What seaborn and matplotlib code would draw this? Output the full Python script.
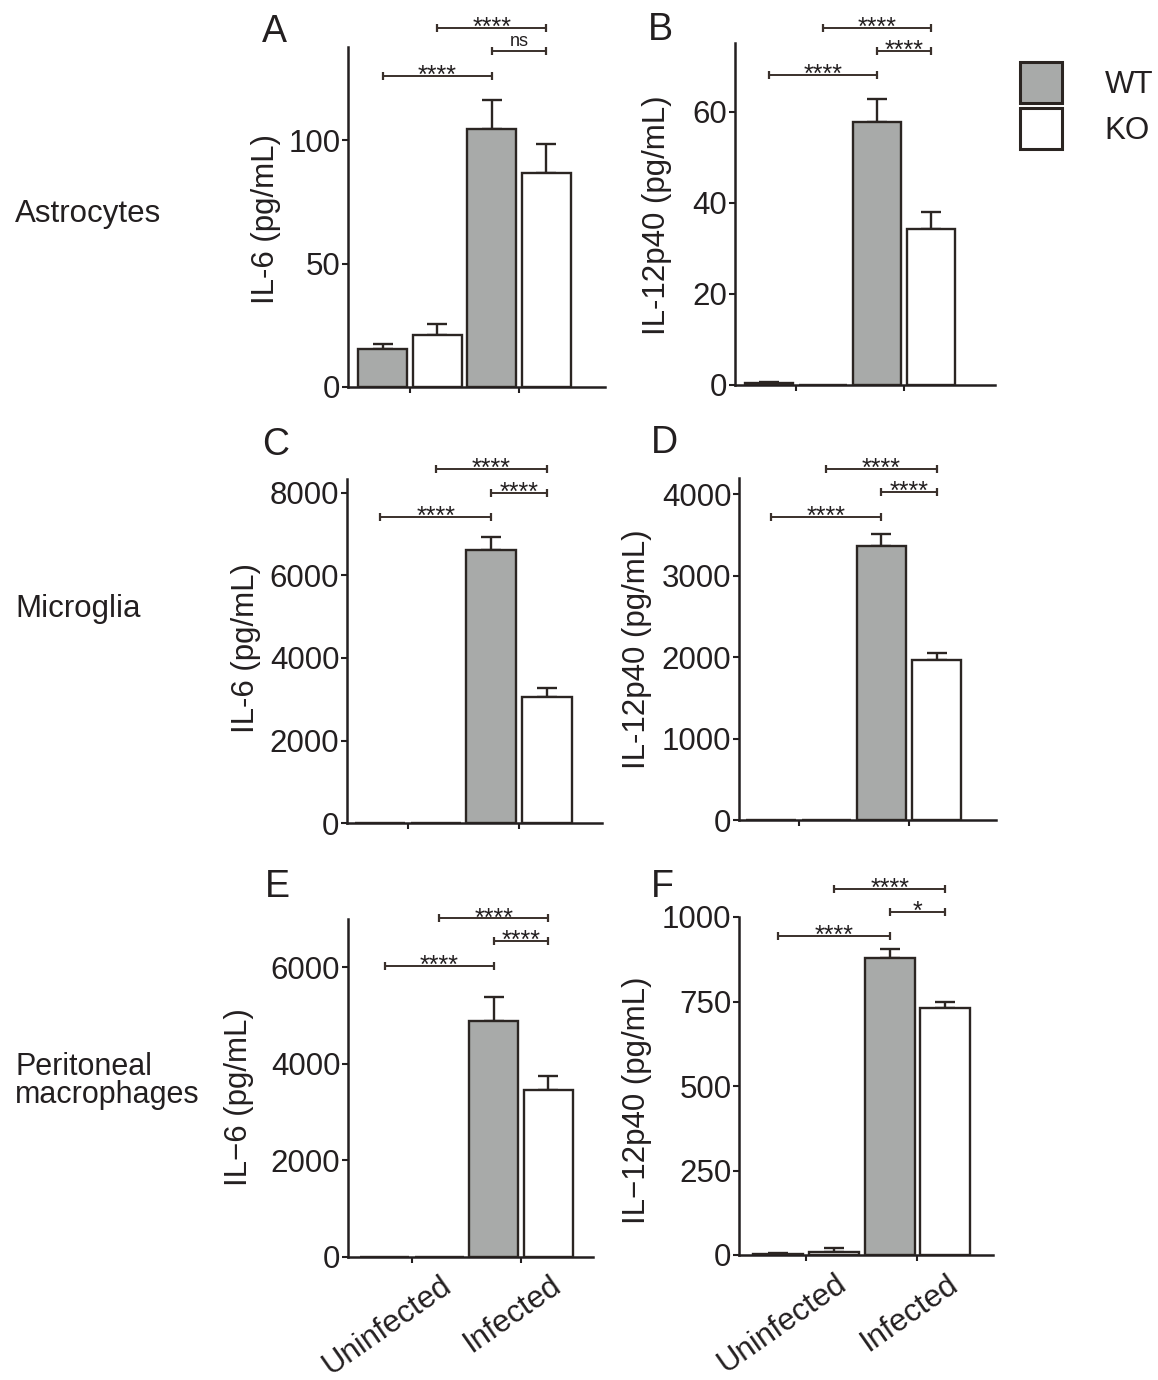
import numpy as np
import pandas as pd
import seaborn as sns
import matplotlib.pyplot as plt
from matplotlib.patches import Patch
from matplotlib.transforms import ScaledTranslation

# Data: [Uninfected, Infected] per genotype, mean and SEM
conditions = ['Uninfected', 'Infected']
genotypes = ['WT', 'KO']
row_labels = ['Astrocytes', 'Microglia', 'Peritoneal\nmacrophages']

a_wt = [15.2, 104.4]
a_ko = [21.0, 86.7]
a_wt_err = [2.0, 11.8]
a_ko_err = [4.4, 11.7]

b_wt = [0.4, 57.7]
b_ko = [0.0, 34.2]
b_wt_err = [0.2, 5.1]
b_ko_err = [0.0, 3.8]

c_wt = [0, 6610]
c_ko = [0, 3047]
c_wt_err = [0, 320]
c_ko_err = [0, 218]

d_wt = [0, 3370]
d_ko = [0, 1966]
d_wt_err = [0, 143]
d_ko_err = [0, 82]

e_wt = [0, 4881]
e_ko = [0, 3462]
e_wt_err = [0, 496]
e_ko_err = [0, 290]

f_wt = [3, 880]
f_ko = [9, 731]
f_wt_err = [2, 24]
f_ko_err = [11, 17]

# significance: WT uninf vs WT inf, KO uninf vs KO inf, WT inf vs KO inf
a_sig = ['****', '****', 'ns']
b_sig = ['****', '****', '****']
c_sig = ['****', '****', '****']
d_sig = ['****', '****', '****']
e_sig = ['****', '****', '****']
f_sig = ['****', '****', '*']

a_ticks = [0, 50, 100]
b_ticks = [0, 20, 40, 60]
c_ticks = [0, 2000, 4000, 6000, 8000]
d_ticks = [0, 1000, 2000, 3000, 4000]
e_ticks = [0, 2000, 4000, 6000]
f_ticks = [0, 250, 500, 750, 1000]

W, H = 1158, 1380
GRAY = '#a8aaa9'
EDGE = '#2b2522'
INK = '#231f20'

sns.set_style('ticks')
plt.rcParams['font.family'] = ['Liberation Sans', 'DejaVu Sans']
plt.rcParams.update({
    'text.color': INK, 'axes.labelcolor': INK, 'xtick.color': INK,
    'ytick.color': INK, 'axes.edgecolor': INK, 'axes.linewidth': 1.8,
})

fig = plt.figure(figsize=(W / 100, H / 100), dpi=100)

panels = [
    dict(letter='A', wt=a_wt, ko=a_ko, wte=a_wt_err, koe=a_ko_err, sig=a_sig, ticks=a_ticks,
         ylabel='IL-6 (pg/mL)', box=(348, 46.7, 605, 386.7), xlim=(-0.569, 1.789), ytop=138,
         sigy=[126.2, 145.5, 136.1], lab=(266, 219), let=(262, 42)),
    dict(letter='B', wt=b_wt, ko=b_ko, wte=b_wt_err, koe=b_ko_err, sig=b_sig, ticks=b_ticks,
         ylabel='IL-12p40 (pg/mL)', box=(735, 43.3, 995, 385), xlim=(-0.565, 1.843), ytop=75,
         sigy=[68.0, 78.4, 73.3], lab=(657, 215), let=(648, 40)),
    dict(letter='C', wt=c_wt, ko=c_ko, wte=c_wt_err, koe=c_ko_err, sig=c_sig, ticks=c_ticks,
         ylabel='IL-6 (pg/mL)', box=(347, 479.3, 602, 823.3), xlim=(-0.55, 1.75), ytop=8320,
         sigy=[7400, 8568, 7995], lab=(246, 648), let=(262, 455)),
    dict(letter='D', wt=d_wt, ko=d_ko, wte=d_wt_err, koe=d_ko_err, sig=d_sig, ticks=d_ticks,
         ylabel='IL-12p40 (pg/mL)', box=(739, 477.7, 996, 820), xlim=(-0.543, 1.79), ytop=4205,
         sigy=[3719, 4312, 4026], lab=(637, 649), let=(651, 453)),
    dict(letter='E', wt=e_wt, ko=e_ko, wte=e_wt_err, koe=e_ko_err, sig=e_sig, ticks=e_ticks,
         ylabel='IL\u22126 (pg/mL)', box=(348, 919, 593, 1256.7), xlim=(-0.587, 1.66), ytop=7000,
         sigy=[6033, 7011, 6536], lab=(239, 1097), let=(265, 897)),
    dict(letter='F', wt=f_wt, ko=f_ko, wte=f_wt_err, koe=f_ko_err, sig=f_sig, ticks=f_ticks,
         ylabel='IL\u221212p40 (pg/mL)', box=(739, 917, 993, 1255), xlim=(-0.605, 1.68), ytop=1000,
         sigy=[943, 1082, 1014], lab=(637, 1100), let=(651, 897)),
]

for k, p in enumerate(panels):
    l, t, r, b = p['box']
    ax = fig.add_axes([l / W, 1 - b / H, (r - l) / W, (b - t) / H])
    df = pd.DataFrame({
        'condition': conditions * 2,
        'genotype': ['WT'] * 2 + ['KO'] * 2,
        'value': p['wt'] + p['ko'],
    })
    sns.barplot(data=df, x='condition', y='value', hue='genotype',
                order=conditions, hue_order=genotypes,
                palette={'WT': GRAY, 'KO': 'white'}, edgecolor=EDGE, linewidth=1.7,
                width=1.0, gap=0.1, errorbar=None, legend=False, ax=ax, zorder=3)

    # upper-only SEM bars
    for cont, errs in zip(ax.containers, [p['wte'], p['koe']]):
        for bar, e in zip(cont, errs):
            if e <= 0:
                continue
            xc = bar.get_x() + bar.get_width() / 2
            ax.errorbar(xc, bar.get_height(), yerr=[[0], [e]], fmt='none',
                        ecolor=EDGE, elinewidth=1.7, capsize=7, capthick=1.7, zorder=2)

    # significance brackets
    def cx(h, c):
        bar = ax.containers[h][c]
        return bar.get_x() + bar.get_width() / 2
    pairs = [((0, 0), (0, 1)), ((1, 0), (1, 1)), ((0, 1), (1, 1))]
    for (pa, pb), yv, s in zip(pairs, p['sigy'], p['sig']):
        x1, x2 = cx(*pa), cx(*pb)
        ax.plot([x1, x2], [yv, yv], color='#3a302b', lw=1.4, clip_on=False,
                marker='|', markersize=6, markeredgewidth=1.6)
        if s == 'ns':
            ax.annotate(s, xy=((x1 + x2) / 2, yv), xytext=(0, 4), textcoords='offset points',
                        ha='center', va='baseline', fontsize=13, annotation_clip=False)
        else:
            ax.annotate(s, xy=((x1 + x2) / 2, yv), xytext=(0, -5), textcoords='offset points',
                        ha='center', va='baseline', fontsize=18, annotation_clip=False)

    ax.set_xlim(*p['xlim'])
    ax.set_ylim(0, p['ytop'])
    ax.set_yticks(p['ticks'])
    ax.set_xlabel('')
    ax.set_ylabel(p['ylabel'], fontsize=22.5, va='center')
    ax.yaxis.set_label_coords(p['lab'][0] / W, 1 - p['lab'][1] / H, transform=fig.transFigure)
    ax.tick_params(axis='both', length=4.5, width=1.5, labelsize=22.5)
    ax.tick_params(axis='y', pad=1)
    sns.despine(ax=ax)

    ax.set_xticks([0, 1])
    if k >= 4:
        ax.set_xticklabels(conditions, rotation=35, ha='right', va='center',
                           rotation_mode='anchor')
        off = ScaledTranslation(0.37, -0.15, fig.dpi_scale_trans)
        for lab in ax.get_xticklabels():
            lab.set_transform(lab.get_transform() + off)
    else:
        ax.set_xticklabels([])

    fig.text(p['let'][0] / W, 1 - p['let'][1] / H, p['letter'], fontsize=27,
             ha='left', va='baseline')

# row labels
fig.text(15 / W, 1 - 221.7 / H, row_labels[0], fontsize=22.5, ha='left', va='baseline')
fig.text(15 / W, 1 - 617 / H, row_labels[1], fontsize=22.5, ha='left', va='baseline')
fig.text(15 / W, 1 - 1103 / H, row_labels[2], fontsize=22, ha='left', va='baseline',
         linespacing=0.93)

handles = [Patch(facecolor=GRAY, edgecolor=EDGE, linewidth=2.2, label='WT'),
           Patch(facecolor='white', edgecolor=EDGE, linewidth=2.2, label='KO')]
fig.legend(handles=handles, loc='upper left', bbox_to_anchor=(1020 / W, 1 - 62 / H),
           frameon=False, fontsize=22.5, handlelength=1.35, handleheight=1.65,
           handletextpad=1.36, labelspacing=0.15, borderpad=0, borderaxespad=0)

fig.savefig('out.png', dpi=100, facecolor='white')
